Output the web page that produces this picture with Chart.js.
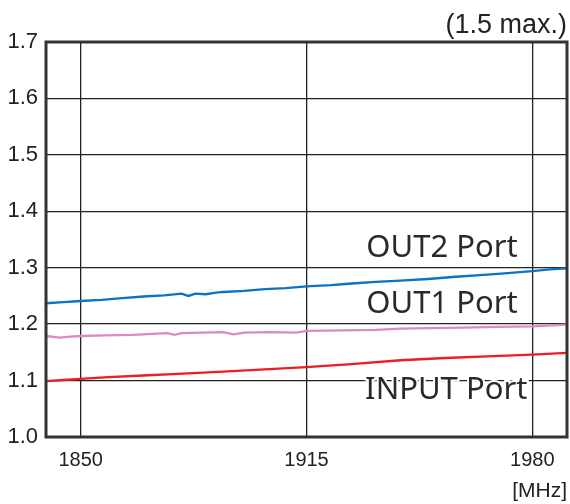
<!DOCTYPE html>
<html>
<head>
<meta charset="utf-8">
<script src="https://cdn.jsdelivr.net/npm/chart.js@4"></script>
<style>
  html, body { margin: 0; padding: 0; background: #fff; }
  #wrap { width: 570px; height: 504px; }
</style>
</head>
<body>
<div id="wrap"><canvas id="vswr"></canvas></div>
<script>
// frequency [MHz] / VSWR readings
const out2Freq = [1840, 1845, 1850, 1856, 1862, 1868, 1874, 1879, 1881, 1883, 1886, 1889, 1891, 1897, 1903, 1909, 1915, 1922, 1928, 1935, 1942, 1950, 1958, 1965, 1972, 1980, 1985, 1990];
const out2Vswr = [1.237, 1.239, 1.241, 1.243, 1.246, 1.249, 1.251, 1.254, 1.250, 1.254, 1.253, 1.256, 1.257, 1.259, 1.262, 1.264, 1.267, 1.269, 1.272, 1.275, 1.277, 1.280, 1.284, 1.287, 1.290, 1.294, 1.297, 1.299];

const out1Freq = [1840, 1844, 1847, 1850, 1857, 1865, 1875, 1877, 1879, 1885, 1891, 1894, 1897, 1905, 1912, 1915, 1925, 1935, 1942, 1950, 1960, 1970, 1980, 1990];
const out1Vswr = [1.179, 1.176, 1.178, 1.179, 1.180, 1.181, 1.184, 1.181, 1.184, 1.185, 1.186, 1.182, 1.185, 1.186, 1.185, 1.188, 1.189, 1.190, 1.192, 1.193, 1.194, 1.195, 1.196, 1.199];

const inFreq = [1840, 1845, 1850, 1858, 1868, 1878, 1891, 1903, 1915, 1928, 1942, 1955, 1967, 1980, 1990];
const inVswr = [1.099, 1.101, 1.103, 1.106, 1.109, 1.112, 1.116, 1.120, 1.124, 1.129, 1.136, 1.140, 1.143, 1.146, 1.149];

const xTicks = [1850, 1915, 1980];
const portNames = ['OUT2 Port', 'OUT1 Port', 'INPUT Port'];
const labelAt = [[1975.8, 1.319], [1975.8, 1.219], [1978.6, 1.067]];

function pts(xs, ys) {
    return xs.map((x, i) => ({ x: x, y: ys[i] }));
}

const textColor = '#222';

const decorations = {
    id: 'decorations',
    afterDatasetsDraw(chart) {
        const { ctx, chartArea, scales } = chart;
        ctx.save();
        // port labels
        ctx.font = '31px "Noto Sans"';
        ctx.textAlign = 'right';
        ctx.textBaseline = 'alphabetic';
        portNames.forEach((name, i) => {
            const px = scales.x.getPixelForValue(labelAt[i][0]);
            const py = scales.y.getPixelForValue(labelAt[i][1]);
            ctx.lineWidth = 4;
            ctx.strokeStyle = '#fff';
            ctx.strokeText(name, px, py);
            ctx.fillStyle = '#2a2a2a';
            ctx.fillText(name, px, py);
        });
        // frame
        ctx.strokeStyle = '#333';
        ctx.lineWidth = 3;
        ctx.strokeRect(chartArea.left, chartArea.top, chartArea.right - chartArea.left, chartArea.bottom - chartArea.top);
        // corner notes
        ctx.fillStyle = textColor;
        ctx.font = '27px "Liberation Sans"';
        ctx.fillText('(1.5 max.)', chartArea.right, chartArea.top - 9);
        ctx.font = '21px "Liberation Sans"';
        ctx.fillText('[MHz]', chartArea.right, chart.height - 7);
        ctx.restore();
    }
};

new Chart(document.getElementById('vswr'), {
    type: 'line',
    data: {
        datasets: [
            { label: portNames[0], data: pts(out2Freq, out2Vswr), borderColor: '#0b72c4' },
            { label: portNames[1], data: pts(out1Freq, out1Vswr), borderColor: '#dd8ac0' },
            { label: portNames[2], data: pts(inFreq, inVswr), borderColor: '#ee1c24' }
        ]
    },
    options: {
        responsive: true,
        maintainAspectRatio: false,
        animation: false,
        layout: { padding: { top: 42, right: 3, left: 0, bottom: 0 } },
        plugins: {
            legend: { display: false },
            tooltip: { enabled: false }
        },
        elements: {
            line: { borderWidth: 2.3, tension: 0, fill: false },
            point: { radius: 0 }
        },
        scales: {
            x: {
                type: 'linear',
                min: 1840,
                max: 1990,
                afterBuildTicks: (axis) => { axis.ticks = xTicks.map(v => ({ value: v })); },
                afterFit: (axis) => { axis.height = 67; },
                grid: { color: '#222', lineWidth: 1.3, drawTicks: false },
                border: { display: false },
                ticks: {
                    padding: 11,
                    color: textColor,
                    font: { family: 'Liberation Sans', size: 20 },
                    maxRotation: 0,
                    callback: (v) => String(v)
                }
            },
            y: {
                min: 1.0,
                max: 1.7,
                afterFit: (axis) => { axis.width = 46; },
                grid: { color: '#222', lineWidth: 1.3, drawTicks: false },
                border: { display: false },
                ticks: {
                    stepSize: 0.1,
                    padding: 8,
                    color: textColor,
                    font: { family: 'Liberation Sans', size: 22 },
                    callback: (v) => Number(v).toFixed(1)
                }
            }
        }
    },
    plugins: [decorations]
});
</script>
</body>
</html>
